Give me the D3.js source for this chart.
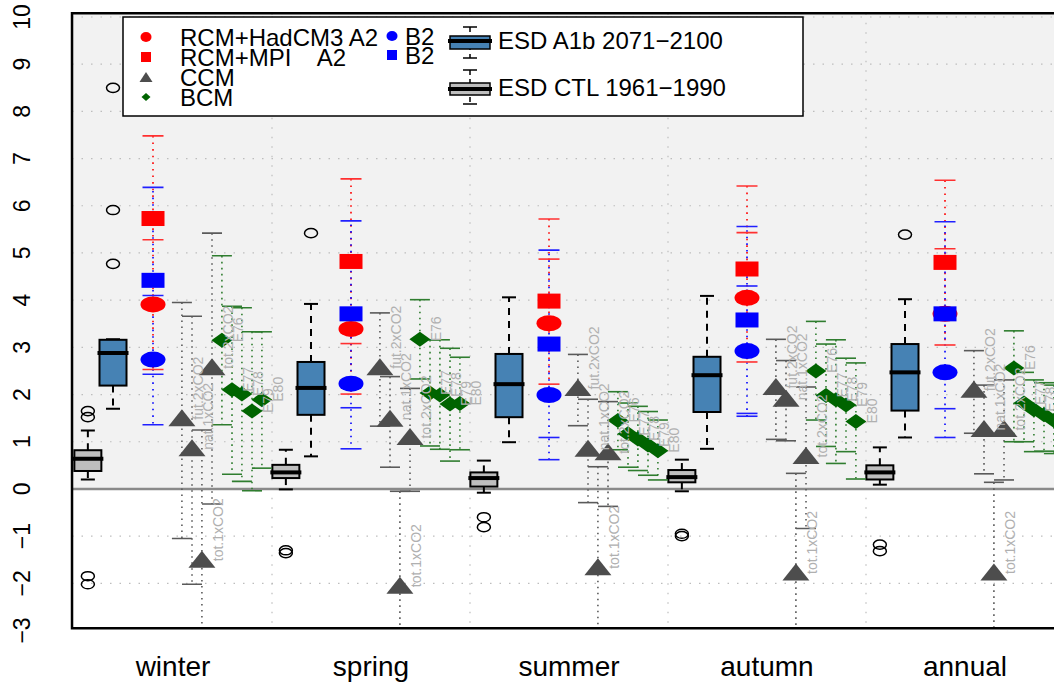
<!DOCTYPE html>
<html>
<head>
<meta charset="utf-8">
<script src="https://cdn.jsdelivr.net/npm/d3@7"></script>
<style>
  body { margin: 0; background: #fff; }
  svg { display: block; }
  text { font-family: "Liberation Sans", Arial, sans-serif; }
</style>
</head>
<body>
<svg id="chart" width="1054" height="682"></svg>
<script>
// ---- data -------------------------------------------------------------
const seasons = ["winter", "spring", "summer", "autumn", "annual"];
const yTickValues = [-3, -2, -1, 0, 1, 2, 3, 4, 5, 6, 7, 8, 9, 10];
const yTickLabels = ["\u22123", "\u22122", "\u22121", "0", "1", "2", "3", "4", "5", "6", "7", "8", "9", "10"];

// ESD control period 1961-1990: [lower whisker, Q1, median, Q3, upper whisker]
const ctlStats = [
  [0.20, 0.38, 0.64, 0.82, 1.24],
  [-0.01, 0.23, 0.35, 0.51, 0.83],
  [-0.08, 0.05, 0.23, 0.35, 0.60],
  [-0.05, 0.14, 0.25, 0.40, 0.62],
  [0.09, 0.20, 0.35, 0.50, 0.88]
];
const ctlOutliers = [
  [1.65, 1.52, -1.85, -2.02],
  [-1.30, -1.36],
  [-0.60, -0.81],
  [-0.95, -1.00],
  [-1.18, -1.32]
];

// ESD A1b scenario 2071-2100
const a1bStats = [
  [1.70, 2.19, 2.88, 3.16, 3.17],
  [0.69, 1.57, 2.14, 2.69, 3.92],
  [0.99, 1.52, 2.22, 2.86, 4.06],
  [0.85, 1.63, 2.41, 2.80, 4.09],
  [1.09, 1.66, 2.47, 3.07, 4.02]
];
const a1bOutliers = [
  [4.77, 5.91, 8.50],
  [5.42],
  [],
  [],
  [5.39]
];

// Regional climate model results
const rcmHadA2 = [3.91, 3.39, 3.51, 4.05, 3.71];
const rcmMpiA2 = [5.73, 4.82, 3.98, 4.66, 4.80];
const rcmHadB2 = [2.74, 2.23, 1.99, 2.92, 2.47];
const rcmMpiB2 = [4.42, 3.71, 3.07, 3.58, 3.71];
const rcmA2Ticks = [
  [7.48, 5.28, 2.53],
  [6.57, 3.08, 2.01],
  [5.72, 4.87, 2.22],
  [6.42, 5.43, 2.69],
  [6.54, 5.09, 3.05]
];
const rcmB2Ticks = [
  [6.39, 4.10, 2.43, 1.36],
  [5.68, 1.72, 0.85],
  [5.06, 1.09, 0.62],
  [5.56, 4.30, 1.60, 1.54],
  [5.66, 1.70, 1.09]
];

// Coupled climate model runs
const ccmNames = ["fut.2xCO2", "nat.1xCO2", "tot.1xCO2", "tot.2xCO2"];
const ccmValues = [
  [1.51, 0.87, -1.49, 2.59],
  [2.59, 1.50, -2.04, 1.11],
  [2.15, 0.86, -1.65, 0.79],
  [2.17, 1.92, -1.76, 0.71],
  [2.11, 1.28, -1.76, 1.28]
];
const ccmLow = [
  [-1.05, -2.02, -4.00, -0.32],
  [1.33, 0.46, -4.00, -0.05],
  [1.34, -0.29, -4.00, -0.37],
  [1.05, 1.02, -4.00, -0.84],
  [1.18, 0.32, -4.00, 0.19]
];
const ccmHigh = [
  [3.95, 3.66, 1.25, 5.42],
  [3.73, 2.38, -0.05, 2.13],
  [2.85, 1.90, 0.47, 1.85],
  [3.17, 2.72, 0.33, 2.16],
  [2.93, 2.20, 0.14, 2.31]
];

// Bjerknes climate model ensemble members
const bcmNames = ["E76", "E77", "E78", "E79", "E80"];
const bcmValues = [
  [3.15, 2.10, 2.01, 1.65, 1.89],
  [3.17, 2.03, 1.99, 1.80, 1.81],
  [1.45, 1.17, 1.06, 0.93, 0.81],
  [2.50, 1.98, 1.89, 1.78, 1.43],
  [2.56, 1.82, 1.68, 1.57, 1.45]
];
const bcmLow = [
  [1.36, 0.31, 0.16, -0.04, 0.44],
  [2.33, 0.91, 0.84, 0.59, 0.83],
  [0.83, 0.46, 0.39, 0.29, 0.19],
  [1.46, 0.90, 0.54, 0.79, 0.21],
  [1.00, 1.00, 0.79, 0.80, 0.75]
];
const bcmHigh = [
  [4.94, 3.87, 3.84, 3.33, 3.33],
  [4.01, 3.16, 3.16, 2.98, 2.79],
  [2.06, 1.82, 1.75, 1.64, 1.46],
  [3.55, 3.07, 3.16, 2.77, 2.67],
  [3.35, 2.47, 2.31, 2.25, 2.20]
];

// ---- layout -------------------------------------------------------------
const svg = d3.select("#chart");
const x = d3.scaleLinear().domain([0, 4]).range([173, 965]);
const y = d3.scaleLinear().domain([-3, 10]).range([630.5, 17]);

const plotL = x(-0.51), plotR = x(4.6), plotT = y(10.08), plotB = y(-2.95);

// horizontal offsets of each group within a season (in season units)
const offCtl = -0.43, offA1b = -0.303, offRcm = -0.101;
const offCcm = [0.045, 0.096, 0.146, 0.197];
const offBcm = [0.247, 0.298, 0.348, 0.399, 0.449];

const COL = {
  a1b: "#4682b4", ctl: "#bebebe", red: "#ff0000", blue: "#0000ff",
  ccm: "#4d4d4d", ccmBar: "#5a5a5a", bcm: "#006400", bcmBar: "#2f7d2f",
  label: "#b0b0b0", grid: "#bdbdbd", bg: "#f2f2f2"
};

svg.append("defs").append("clipPath").attr("id", "plotclip")
  .append("rect").attr("x", plotL).attr("y", plotT)
  .attr("width", plotR - plotL).attr("height", plotB - plotT);

// background: shaded warming half, white below zero
svg.append("rect").attr("x", plotL).attr("y", plotT)
  .attr("width", plotR - plotL).attr("height", y(0) - plotT).attr("fill", COL.bg);

const plot = svg.append("g").attr("clip-path", "url(#plotclip)");

// grid
plot.append("g").selectAll("line").data(yTickValues).join("line")
  .attr("x1", plotL).attr("x2", plotR)
  .attr("y1", d => y(d)).attr("y2", d => y(d))
  .attr("stroke", COL.grid).attr("stroke-width", 1.2).attr("stroke-dasharray", "1.5,8");
plot.append("g").selectAll("line").data(d3.range(seasons.length)).join("line")
  .attr("x1", d => x(d + 0.5)).attr("x2", d => x(d + 0.5))
  .attr("y1", plotT).attr("y2", plotB)
  .attr("stroke", COL.grid).attr("stroke-width", 1.2).attr("stroke-dasharray", "1.5,8");

// zero line
plot.append("line").attr("x1", plotL).attr("x2", plotR)
  .attr("y1", y(0)).attr("y2", y(0))
  .attr("stroke", "#8a8a8a").attr("stroke-width", 2.5);

// ---- box plots ---------------------------------------------------------------
function boxplot(g, cx, st, fill, outliers) {
  const [lo, q1, med, q3, hi] = st;
  const bw = 27, cw = 14;
  g.append("line").attr("x1", cx).attr("x2", cx).attr("y1", y(q3)).attr("y2", y(hi))
    .attr("stroke", "#000").attr("stroke-width", 2).attr("stroke-dasharray", "7,6");
  g.append("line").attr("x1", cx).attr("x2", cx).attr("y1", y(q1)).attr("y2", y(lo))
    .attr("stroke", "#000").attr("stroke-width", 2).attr("stroke-dasharray", "7,6");
  [lo, hi].forEach(v => g.append("line")
    .attr("x1", cx - cw / 2).attr("x2", cx + cw / 2).attr("y1", y(v)).attr("y2", y(v))
    .attr("stroke", "#000").attr("stroke-width", 2));
  g.append("rect").attr("x", cx - bw / 2).attr("y", y(q3))
    .attr("width", bw).attr("height", y(q1) - y(q3))
    .attr("fill", fill).attr("stroke", "#000").attr("stroke-width", 2);
  g.append("line").attr("x1", cx - bw / 2 - 2).attr("x2", cx + bw / 2 + 2)
    .attr("y1", y(med)).attr("y2", y(med)).attr("stroke", "#000").attr("stroke-width", 4);
  g.selectAll(null).data(outliers).join("ellipse")
    .attr("cx", cx).attr("cy", d => y(d)).attr("rx", 6.5).attr("ry", 4.6)
    .attr("fill", "none").attr("stroke", "#000").attr("stroke-width", 1.5);
}

const gBox = plot.append("g");
seasons.forEach((s, i) => {
  boxplot(gBox, x(i + offCtl), ctlStats[i], COL.ctl, ctlOutliers[i]);
  boxplot(gBox, x(i + offA1b), a1bStats[i], COL.a1b, a1bOutliers[i]);
});

// ---- range bars ---------------------------------------------------------------
function rangeBar(g, cx, lo, hi, color, dash, offset) {
  g.append("line").attr("x1", cx).attr("x2", cx).attr("y1", y(hi)).attr("y2", y(lo))
    .attr("stroke", color).attr("stroke-width", 1.6)
    .attr("stroke-dasharray", dash).attr("stroke-dashoffset", offset || 0);
}
function caps(g, cx, vals, color, w) {
  g.selectAll(null).data(vals).join("line")
    .attr("x1", cx - w / 2).attr("x2", cx + w / 2)
    .attr("y1", d => y(d)).attr("y2", d => y(d))
    .attr("stroke", color).attr("stroke-width", 1.6);
}

const triPath = (cx, cy, w, h) => `M${cx},${cy - h / 2}L${cx + w / 2},${cy + h / 2}L${cx - w / 2},${cy + h / 2}Z`;
const diaPath = (cx, cy, w, h) => `M${cx},${cy - h / 2}L${cx + w / 2},${cy}L${cx},${cy + h / 2}L${cx - w / 2},${cy}Z`;

// ---- RCM ------------------------------------------------------------------
const gRcm = plot.append("g");
seasons.forEach((s, i) => {
  const cx = x(i + offRcm);
  rangeBar(gRcm, cx, d3.min(rcmA2Ticks[i]), d3.max(rcmA2Ticks[i]), COL.red, "1.6,5", 0);
  rangeBar(gRcm, cx, d3.min(rcmB2Ticks[i]), d3.max(rcmB2Ticks[i]), COL.blue, "1.6,5", 3);
  caps(gRcm, cx, rcmA2Ticks[i], "#ff3030", 21);
  caps(gRcm, cx, rcmB2Ticks[i], "#2020ff", 21);
  gRcm.append("ellipse").attr("cx", cx).attr("cy", y(rcmHadA2[i])).attr("rx", 12.5).attr("ry", 8).attr("fill", COL.red);
  gRcm.append("rect").attr("x", cx - 11.5).attr("y", y(rcmMpiA2[i]) - 7.5).attr("width", 23).attr("height", 15).attr("fill", COL.red);
  gRcm.append("ellipse").attr("cx", cx).attr("cy", y(rcmHadB2[i])).attr("rx", 12.5).attr("ry", 8).attr("fill", COL.blue);
  gRcm.append("rect").attr("x", cx - 11.5).attr("y", y(rcmMpiB2[i]) - 7.5).attr("width", 23).attr("height", 15).attr("fill", COL.blue);
});

// ---- CCM and BCM ------------------------------------------------------------
const gMod = plot.append("g");
const gLab = plot.append("g");
seasons.forEach((s, i) => {
  ccmNames.forEach((n, k) => {
    const cx = x(i + offCcm[k]);
    rangeBar(gMod, cx, ccmLow[i][k], ccmHigh[i][k], COL.ccmBar, "1.6,4.4", 0);
    caps(gMod, cx, [ccmLow[i][k], ccmHigh[i][k]], COL.ccmBar, 20);
  });
  bcmNames.forEach((n, k) => {
    const cx = x(i + offBcm[k]);
    rangeBar(gMod, cx, bcmLow[i][k], bcmHigh[i][k], COL.bcmBar, "1.6,4.4", 0);
    caps(gMod, cx, [bcmLow[i][k], bcmHigh[i][k]], COL.bcmBar, 20);
  });
});
seasons.forEach((s, i) => {
  ccmNames.forEach((n, k) => {
    const cx = x(i + offCcm[k]), cy = y(ccmValues[i][k]);
    gMod.append("path").attr("d", triPath(cx, cy, 27, 17)).attr("fill", COL.ccm);
    gLab.append("text").attr("transform", `translate(${cx + 16},${cy + 2}) rotate(-90)`)
      .attr("dominant-baseline", "central").attr("font-size", 14).attr("fill", COL.label).text(n);
  });
  bcmNames.forEach((n, k) => {
    const cx = x(i + offBcm[k]), cy = y(bcmValues[i][k]);
    gMod.append("path").attr("d", diaPath(cx, cy, 21, 15)).attr("fill", COL.bcm);
    gLab.append("text").attr("transform", `translate(${cx + 16},${cy + 2}) rotate(-90)`)
      .attr("dominant-baseline", "central").attr("font-size", 14).attr("fill", COL.label).text(n);
  });
});

// ---- frame and axes ---------------------------------------------------------
svg.append("path")
  .attr("d", `M${plotR + 5},${plotT}H${plotL}V${plotB}H${plotR + 5}`)
  .attr("fill", "none").attr("stroke", "#000").attr("stroke-width", 2.5);

svg.append("g").selectAll("text").data(yTickValues).join("text")
  .attr("transform", d => `translate(30,${y(d)}) rotate(-90)`)
  .attr("text-anchor", "middle").attr("font-size", 23).attr("fill", "#000")
  .text((d, i) => yTickLabels[i]);

svg.append("g").selectAll("text").data(seasons).join("text")
  .attr("x", (d, i) => x(i)).attr("y", 676)
  .attr("text-anchor", "middle").attr("font-size", 28).attr("fill", "#000")
  .text(d => d);

// ---- legend -------------------------------------------------------------
const lg = svg.append("g");
lg.append("rect").attr("x", 123).attr("y", 17).attr("width", 680).attr("height", 99)
  .attr("fill", "#fff").attr("stroke", "#000").attr("stroke-width", 1.5);
const rows = [37, 57, 77, 97];
lg.append("ellipse").attr("cx", 146).attr("cy", rows[0]).attr("rx", 5.5).attr("ry", 5).attr("fill", COL.red);
lg.append("rect").attr("x", 141).attr("y", rows[1] - 5).attr("width", 10).attr("height", 10).attr("fill", COL.red);
lg.append("path").attr("d", triPath(146, rows[2], 13, 10)).attr("fill", COL.ccm);
lg.append("path").attr("d", diaPath(146, rows[3], 9, 8)).attr("fill", COL.bcm);
lg.append("ellipse").attr("cx", 392).attr("cy", rows[0] - 1).attr("rx", 5.5).attr("ry", 5).attr("fill", COL.blue);
lg.append("rect").attr("x", 387).attr("y", rows[1] - 7).attr("width", 10).attr("height", 10).attr("fill", COL.blue);
const legText = ["RCM+HadCM3 A2", "RCM+MPI    A2", "CCM", "BCM"];
lg.selectAll("text.l").data(legText).join("text").attr("class", "l")
  .attr("x", 180).attr("y", (d, i) => rows[i]).attr("dominant-baseline", "central")
  .attr("font-size", 24).attr("xml:space", "preserve").style("white-space", "pre").text(d => d);
lg.append("text").attr("x", 405).attr("y", rows[0] - 1).attr("dominant-baseline", "central").attr("font-size", 24).text("B2");
lg.append("text").attr("x", 405).attr("y", rows[1] - 2).attr("dominant-baseline", "central").attr("font-size", 24).text("B2");

function legendBox(cx, top, q3, med, q1, bottom, fill) {
  const bw = 40, cw = 14;
  lg.append("line").attr("x1", cx).attr("x2", cx).attr("y1", top).attr("y2", bottom)
    .attr("stroke", "#000").attr("stroke-width", 1.5).attr("stroke-dasharray", "5,4");
  [top, bottom].forEach(v => lg.append("line").attr("x1", cx - cw / 2).attr("x2", cx + cw / 2)
    .attr("y1", v).attr("y2", v).attr("stroke", "#000").attr("stroke-width", 1.5));
  lg.append("rect").attr("x", cx - bw / 2).attr("y", q3).attr("width", bw).attr("height", q1 - q3)
    .attr("fill", fill).attr("stroke", "#000").attr("stroke-width", 1.5);
  lg.append("line").attr("x1", cx - bw / 2 - 2).attr("x2", cx + bw / 2 + 2).attr("y1", med).attr("y2", med)
    .attr("stroke", "#000").attr("stroke-width", 4);
}
legendBox(470, 27, 36, 41, 49, 58, COL.a1b);
legendBox(470, 70, 83, 89, 95, 104, COL.ctl);
lg.append("text").attr("x", 498).attr("y", 40).attr("dominant-baseline", "central").attr("font-size", 24).text("ESD A1b 2071\u22122100");
lg.append("text").attr("x", 498).attr("y", 87).attr("dominant-baseline", "central").attr("font-size", 24).text("ESD CTL 1961\u22121990");
</script>
</body>
</html>
